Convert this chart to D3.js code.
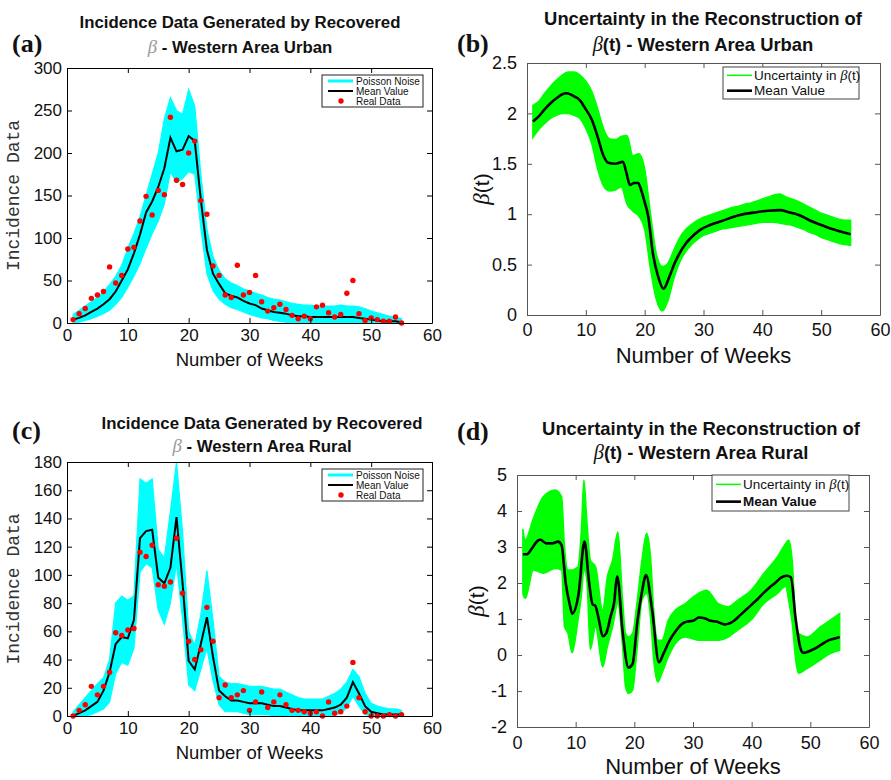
<!DOCTYPE html>
<html><head><meta charset="utf-8">
<script src="https://cdn.jsdelivr.net/npm/d3@7"></script>
<style>body{margin:0;background:#fff}svg{display:block}</style>
</head><body>
<svg id="chart" width="891" height="780"></svg>
<script>
// ---------- DATA ----------
const weeks = d3.range(1, 56); // week index 1..55

// Panel (a) Western Area Urban incidence
const realA  = [4,11,17,29,33,37,66,47,56,87, 89,120,149,127,156,151,242,168,163,200, 214,144,128,67,56,33,30,68,33,36, 56,25,14,18,22,16,9,5,8,5, 19,21,12,7,10,35,50,11,3,6, 4,2,2,7,0];
const meanA  = [4,6,9,13,17,22,28,37,50,63, 82,104,130,143,160,182,218,202,204,220, 214,145,86,58,46,35,32,30,26,23, 21,17,15,13,12,11,9,8,8,7, 7,7,7,7,7,7,7,6,5,4, 3,2,2,2,1];
const upperA = [10,15,20,25,30,37,45,55,68,88, 105,125,150,175,200,240,265,250,245,275, 255,175,110,78,62,52,47,44,40,38, 35,33,30,28,27,25,23,22,21,21, 20,20,20,20,21,20,20,19,17,14, 12,10,8,7,5];
const lowerA = [0,1,3,5,8,11,15,22,30,42, 55,70,88,105,120,140,178,165,170,178, 175,112,58,38,28,22,18,16,13,10, 8,6,5,3,2,1,0,0,0,0, 0,0,0,0,0,0,0,0,0,0, 0,0,0,0,0];

// Panel (c) Western Area Rural incidence
const realC  = [0,4,8,21,15,21,31,59,57,61, 62,116,113,121,93,92,95,126,87,53, 40,47,77,53,13,22,13,15,18,4, 10,17,6,10,15,8,4,4,3,2, 3,0,10,2,3,7,38,13,3,0, 0,0,1,0,1];
const meanC  = [0,2,4,7,10,18,31,51,56,55, 68,126,131,132,98,94,105,141,94,39, 33,51,70,42,18,14,11,11,10,9, 9,9,8,7,7,6,5,4,4,4, 4,4,5,6,8,13,24,16,7,3, 2,1,1,1,1];
const upperC = [3,8,13,18,23,27,40,80,85,82, 85,168,165,168,118,112,145,180,130,60, 50,72,103,68,28,24,23,23,22,21, 21,21,20,19,19,17,15,13,12,12, 12,12,14,16,19,24,33,28,16,9, 7,6,5,5,4];
const lowerC = [0,0,0,1,3,5,10,30,38,36, 48,102,108,105,75,65,80,108,68,22, 18,33,48,25,8,3,3,3,2,1, 1,1,1,0,0,0,0,0,0,0, 0,0,0,1,2,6,14,7,1,0, 0,0,0,0,0];

// Panel (b) beta(t) Western Area Urban
const tMeanB = [1,2,3,4,5,6,6.7,8,9,10, 11,12,13,13.8,15,16.3,16.9,17.5,18.2,18.9, 19.4,20,20.6,21.4,22.3,23.2,24.2,25,25.9,27, 27.6,29.3,31,33,36,39,41,43,44.5,46.3, 48,49.7,52,55];
const meanB  = [1.92,1.97,2.04,2.10,2.15,2.19,2.20,2.17,2.13,2.04, 1.94,1.77,1.58,1.51,1.50,1.52,1.41,1.29,1.31,1.31, 1.24,1.12,0.98,0.61,0.38,0.26,0.38,0.50,0.61,0.71, 0.75,0.84,0.89,0.93,0.99,1.02,1.035,1.04,1.02,0.99, 0.94,0.90,0.85,0.80];
const upperB = [2.08,2.12,2.2,2.27,2.33,2.38,2.41,2.41,2.38,2.32, 2.22,2.05,1.85,1.75,1.74,1.77,1.78,1.58,1.60,1.45, 1.0,0.6,0.48,0.52,0.65,0.77,0.85,0.9,0.94,0.97, 0.99,1.01,1.03,1.05,1.07,1.08,1.1,1.11,1.13,1.15, 1.17,1.19,1.2,1.17,1.15,1.13,1.1,1.07,1.04,1.01, 0.99,0.97,0.95,0.94,0.94];
const lowerB = [1.76,1.84,1.9,1.95,1.98,2.0,2.0,1.98,1.95,1.85, 1.7,1.45,1.28,1.23,1.24,1.27,1.1,1.03,0.98,0.85, 0.45,0.15,0.04,0.15,0.37,0.53,0.63,0.7,0.75,0.79, 0.81,0.83,0.85,0.86,0.87,0.88,0.89,0.9,0.91,0.92, 0.92,0.92,0.91,0.9,0.89,0.87,0.85,0.82,0.8,0.77, 0.75,0.73,0.71,0.7,0.69];

// Panel (d) beta(t) Western Area Rural
const tMeanD = [1,1.7,2.5,3.5,4,5,6,7,7.6,8.3, 9,9.4,10.5,11.5,12.3,12.9,13.3,14,14.6,15.2, 16,16.5,17.1,18,19,19.7,20.5,21.3,22,23, 24.2,25,26,27,28,29,30,31,32,33, 34,35.4,37,38,39,40,41,42,43,44, 45,46,46.7,47.5,48.3,48.8,50,51,52,53, 54,55];
const meanD  = [2.8,2.8,2.95,3.17,3.2,3.1,3.1,3.15,3.05,2.0, 1.4,1.15,1.7,3.15,2.0,1.4,1.38,0.95,0.52,0.6, 1.1,1.4,2.18,0.65,-0.35,-0.25,0.9,1.75,2.22,1.3, -0.2,0.05,0.4,0.65,0.85,0.93,0.95,1.04,1.02,0.95, 0.93,0.85,0.95,1.1,1.25,1.4,1.55,1.72,1.87,2.0, 2.15,2.2,2.15,1.0,0.2,0.06,0.12,0.2,0.3,0.4, 0.45,0.5];
const tBandD = [1,1.4,2.8,4.5,6.5,7.6,8.1,8.7,9.4,10.4, 11,11.4,11.9,12.5,13.4,14.6,15.4,16.3,17.2,18, 18.5,19,19.7,20.5,21.3,22.1,22.8,23.3,24,24.7, 25.8,27,28.7,30.9,32.3,34.3,36,37.6,39.9,42.1, 44.4,45.8,46.3,46.9,47.5,48,49.4,51.7,53.4,55];
const upperD = [3.5,3.2,3.8,4.4,4.58,4.4,3.0,2.36,2.36,2.45, 3.56,4.86,3.75,2.64,2.45,1.25,2.17,2.64,3.42,1.52, 0.6,0.5,0.6,1.52,2.64,3.38,2.64,1.25,0.41,0.41, 0.97,1.25,1.43,1.71,1.8,1.43,1.34,1.52,1.8,2.27, 2.73,3.1,3.19,2.64,0.97,0.6,0.5,0.78,0.97,1.15];
const lowerD = [1.7,1.57,2.36,2.27,2.4,2.36,0.78,0.6,0.06,0.97, 1.7,2.36,2.08,0.15,0.78,-0.33,0.23,0.78,1.43,0.23, -0.88,-1.07,-0.98,0.23,1.52,1.71,0.97,-0.14,-0.75,-0.51, -0.05,0.32,0.5,0.41,0.41,0.41,0.5,0.69,0.97,1.43, 1.71,1.9,1.52,0.9,-0.14,-0.51,-0.38,-0.14,0.04,0.13];

// Tick values
const xTicks = [0,10,20,30,40,50,60];
const yTicksA = [0,50,100,150,200,250,300];
const yTicksB = [0,0.5,1,1.5,2,2.5];
const yTicksC = [0,20,40,60,80,100,120,140,160,180];
const yTicksD = [-2,-1,0,1,2,3,4,5];

// ---------- DRAWING ----------
const SANS = "'Liberation Sans', Arial, Helvetica, sans-serif";
const SERIF = "'Liberation Serif', 'Times New Roman', serif";
const MONO = "'Liberation Mono', 'Courier New', monospace";
const svg = d3.select("#chart");

function frame(x, y, yt, o) {
  const [x0, x1] = x.range();
  const [yb, yt0] = y.range();
  const g = svg.append("g");
  const fmt = d => String(d);
  const style = sel => {
    sel.attr("font-family", SANS).attr("font-size", o.fs);
    sel.selectAll(".domain").attr("stroke", o.col).attr("stroke-width", 1);
    sel.selectAll(".tick line").attr("stroke", o.col);
    sel.selectAll(".tick text").attr("fill", "#111");
  };
  g.append("g").attr("transform", `translate(0,${yb})`)
    .call(d3.axisBottom(x).tickValues(xTicks).tickSizeInner(-5).tickSizeOuter(0).tickPadding(o.xPad).tickFormat(fmt)).call(style);
  g.append("g").attr("transform", `translate(0,${yt0})`)
    .call(d3.axisTop(x).tickValues(xTicks).tickSizeInner(-5).tickSizeOuter(0).tickFormat("")).call(style);
  g.append("g").attr("transform", `translate(${x0},0)`)
    .call(d3.axisLeft(y).tickValues(yt).tickSizeInner(-5).tickSizeOuter(0).tickPadding(o.yPad).tickFormat(fmt)).call(style);
  g.append("g").attr("transform", `translate(${x1},0)`)
    .call(d3.axisRight(y).tickValues(yt).tickSizeInner(-5).tickSizeOuter(0).tickFormat("")).call(style);
  return g;
}

function titleLines(cx, y1, y2, fs, region, betaT) {
  svg.append("text").attr("x", cx).attr("y", y1).attr("text-anchor", "middle")
    .attr("font-family", SANS).attr("font-weight", "bold").attr("font-size", fs).attr("fill", "#111")
    .text(betaT ? "Uncertainty in the Reconstruction of" : "Incidence Data Generated by Recovered");
  const t = svg.append("text").attr("x", cx).attr("y", y2).attr("text-anchor", "middle")
    .attr("font-family", SANS).attr("font-weight", "bold").attr("font-size", fs).attr("fill", "#111");
  if (betaT) {
    t.append("tspan").attr("font-family", SERIF).attr("font-style", "italic").attr("font-weight", "normal").attr("font-size", fs + 2).text("β");
    t.append("tspan").text("(t) - Western Area " + region);
  } else {
    t.append("tspan").attr("font-family", SERIF).attr("font-style", "italic").attr("font-weight", "normal").attr("font-size", fs + 2).attr("fill", "#9a9a9a").text("β");
    t.append("tspan").text("  - Western Area " + region);
  }
}

function panelLabel(x, y, s) {
  svg.append("text").attr("x", x).attr("y", y).attr("font-family", SERIF).attr("font-weight", "bold")
    .attr("font-size", 26).attr("fill", "#111").text(s);
}

function incidencePanel(box, yMax, yt, real, mean, up, lo, region, titleY, label) {
  const x = d3.scaleLinear().domain([0, 60]).range([box.x0, box.x1]);
  const y = d3.scaleLinear().domain([0, yMax]).range([box.y1, box.y0]);
  const pts = weeks.map((w, i) => ({w, m: mean[i], u: up[i], l: lo[i], r: real[i]}));
  svg.append("path").datum(pts).attr("fill", "#00ffff").attr("stroke", "#00ffff").attr("stroke-width", 1.2)
    .attr("d", d3.area().x(d => x(d.w)).y0(d => y(d.l)).y1(d => y(d.u)));
  svg.append("path").datum(pts).attr("fill", "none").attr("stroke", "#000").attr("stroke-width", 2)
    .attr("d", d3.line().x(d => x(d.w)).y(d => y(d.m)));
  svg.append("g").selectAll("circle").data(pts).join("circle")
    .attr("cx", d => x(d.w)).attr("cy", d => y(d.r)).attr("r", 2.7).attr("fill", "#ff0000");
  frame(x, y, yt, {col: "#000", fs: 17, xPad: 6, yPad: 5});
  // axis labels
  svg.append("text").attr("x", (box.x0 + box.x1) / 2).attr("y", box.y1 + 43).attr("text-anchor", "middle")
    .attr("font-family", SANS).attr("font-size", 18.5).attr("fill", "#111").text("Number of Weeks");
  svg.append("text").attr("transform", `translate(19,${(box.y0 + box.y1) / 2}) rotate(-90)`).attr("text-anchor", "middle")
    .attr("font-family", MONO).attr("font-size", 18).attr("fill", "#333").text("Incidence Data");
  // legend
  const lx = box.x1 - 110, ly = box.y0 + 7;
  const lg = svg.append("g").attr("font-family", SANS).attr("font-size", 10).attr("fill", "#111");
  lg.append("rect").attr("x", lx).attr("y", ly).attr("width", 101).attr("height", 32).attr("fill", "#fff").attr("stroke", "#222").attr("stroke-width", 1);
  lg.append("line").attr("x1", lx + 6).attr("x2", lx + 31).attr("y1", ly + 6).attr("y2", ly + 6).attr("stroke", "#00ffff").attr("stroke-width", 3);
  lg.append("line").attr("x1", lx + 6).attr("x2", lx + 31).attr("y1", ly + 16).attr("y2", ly + 16).attr("stroke", "#000").attr("stroke-width", 2);
  lg.append("circle").attr("cx", lx + 19).attr("cy", ly + 26).attr("r", 2.7).attr("fill", "#ff0000");
  ["Poisson Noise", "Mean Value", "Real Data"].forEach((s, i) =>
    lg.append("text").attr("x", lx + 34).attr("y", ly + 6 + 10 * i).attr("dy", "0.35em").text(s));
  titleLines(box.tcx, titleY[0], titleY[1], 16.8, region, false);
  panelLabel(label[0], label[1], label[2]);
}

function betaPanel(box, yDom, yt, tMean, mean, tBand, up, lo, region, titleY, label, leg) {
  const x = d3.scaleLinear().domain([0, 60]).range([box.x0, box.x1]);
  const y = d3.scaleLinear().domain(yDom).range([box.y1, box.y0]);
  const band = tBand.map((t, i) => ({t, u: up[i], l: lo[i]}));
  const mpts = tMean.map((t, i) => ({t, m: mean[i]}));
  svg.append("path").datum(band).attr("fill", "#00ff00").attr("stroke", "#00ff00").attr("stroke-width", 1.5)
    .attr("d", d3.area().curve(d3.curveMonotoneX).x(d => x(d.t)).y0(d => y(d.l)).y1(d => y(d.u)));
  svg.append("path").datum(mpts).attr("fill", "none").attr("stroke", "#000").attr("stroke-width", 2.6)
    .attr("d", d3.line().curve(d3.curveMonotoneX).x(d => x(d.t)).y(d => y(d.m)));
  frame(x, y, yt, {col: "#555", fs: 18, xPad: box.xPad, yPad: 10});
  svg.append("text").attr("x", (box.x0 + box.x1) / 2).attr("y", box.y1 + box.xlab).attr("text-anchor", "middle")
    .attr("font-family", SANS).attr("font-size", 22).attr("fill", "#111").text("Number of Weeks");
  const yl = svg.append("text").attr("transform", `translate(${box.x0 - box.ylab},${(box.y0 + box.y1) / 2}) rotate(-90)`)
    .attr("text-anchor", "middle").attr("font-family", SANS).attr("font-size", 21).attr("fill", "#111");
  yl.append("tspan").attr("font-family", SERIF).attr("font-style", "italic").attr("font-size", 23).text("β");
  yl.append("tspan").text("(t)");
  // legend
  const lg = svg.append("g").attr("font-family", SANS).attr("font-size", 13.5).attr("fill", "#111");
  lg.append("rect").attr("x", leg.x).attr("y", leg.y).attr("width", leg.w).attr("height", leg.h).attr("fill", "#fff").attr("stroke", "#444").attr("stroke-width", 1);
  const r1 = leg.y + leg.h * 0.26, r2 = leg.y + leg.h * 0.74;
  lg.append("line").attr("x1", leg.x + 4).attr("x2", leg.x + 29).attr("y1", r1).attr("y2", r1).attr("stroke", "#00ff00").attr("stroke-width", 1.5);
  lg.append("line").attr("x1", leg.x + 4).attr("x2", leg.x + 29).attr("y1", r2).attr("y2", r2).attr("stroke", "#000").attr("stroke-width", 2.6);
  const t1 = lg.append("text").attr("x", leg.x + 31).attr("y", r1).attr("dy", "0.35em");
  t1.append("tspan").text("Uncertainty in ");
  t1.append("tspan").attr("font-family", SERIF).attr("font-style", "italic").attr("font-size", 14.5).text("β");
  t1.append("tspan").text("(t)");
  lg.append("text").attr("x", leg.x + 31).attr("y", r2).attr("dy", "0.35em").attr("font-weight", leg.bold ? "bold" : "normal").text("Mean Value");
  titleLines(box.tcx, titleY[0], titleY[1], 18.4, region, true);
  panelLabel(label[0], label[1], label[2]);
}

incidencePanel({x0: 67, x1: 432, y0: 68, y1: 323, tcx: 240}, 300, yTicksA, realA, meanA, upperA, lowerA,
  "Urban", [28, 53], [12, 52, "(a)"]);
incidencePanel({x0: 67, x1: 432, y0: 462, y1: 716, tcx: 262}, 180, yTicksC, realC, meanC, upperC, lowerC,
  "Rural", [429, 452], [12, 439, "(c)"]);
betaPanel({x0: 527, x1: 880, y0: 63, y1: 315, tcx: 703, xPad: 8, xlab: 48, ylab: 38}, [0, 2.5], yTicksB,
  tMeanB, meanB, weeks, upperB, lowerB, "Urban", [25, 51], [457, 52, "(b)"],
  {x: 723, y: 67, w: 136, h: 32, bold: false});
betaPanel({x0: 517, x1: 869, y0: 475, y1: 727, tcx: 701, xPad: 9, xlab: 47, ylab: 33}, [-2, 5], yTicksD,
  tMeanD, meanD, tBandD, upperD, lowerD, "Rural", [435, 459], [457, 440, "(d)"],
  {x: 712, y: 475, w: 137, h: 36, bold: true});
</script>
</body></html>
